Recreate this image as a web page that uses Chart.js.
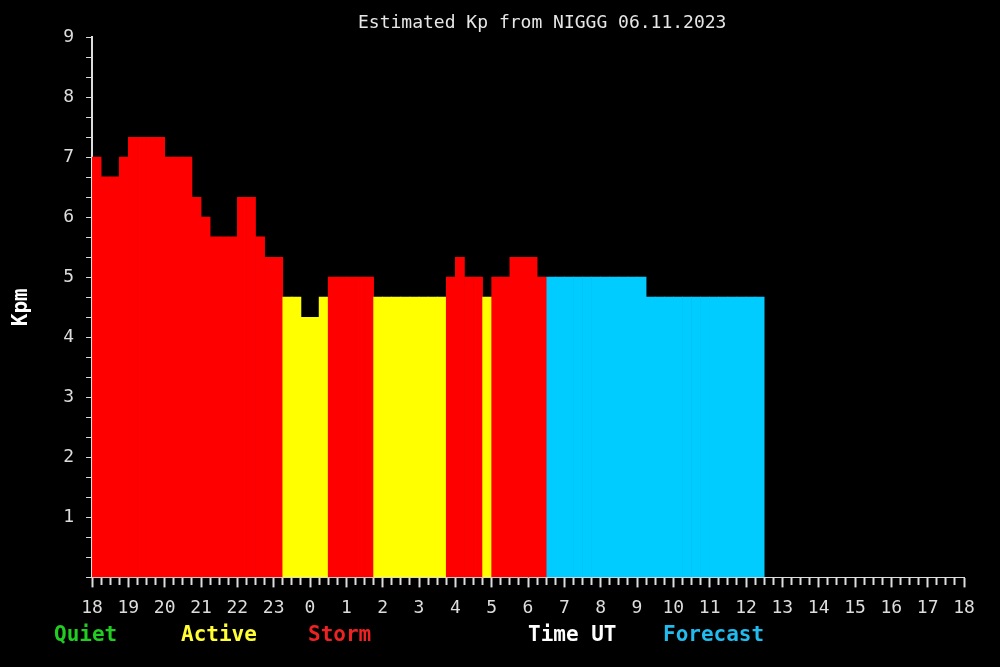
<!DOCTYPE html>
<html>
<head>
<meta charset="utf-8">
<script src="https://cdn.jsdelivr.net/npm/chart.js"></script>
<style>
  body { margin: 0; background: #000; }
  #wrap { position: relative; width: 1000px; height: 667px; }
  .txt { position: absolute; font-family: "DejaVu Sans Mono", monospace; white-space: pre; line-height: 1; }
  #title { left: 358px; top: 13px; font-size: 18px; color: #e6e6e6; }
  .legend { top: 624px; font-size: 21px; font-weight: bold; }
</style>
</head>
<body>
<div id="wrap">
  <canvas id="kpChart"></canvas>
  <div class="txt" id="title">Estimated Kp from NIGGG 06.11.2023</div>
  <div class="txt legend" style="left:54px;color:#22cc22">Quiet</div>
  <div class="txt legend" style="left:181px;color:#ffff33">Active</div>
  <div class="txt legend" style="left:308px;color:#ee2222">Storm</div>
  <div class="txt legend" style="left:528px;color:#ffffff">Time UT</div>
  <div class="txt legend" style="left:663px;color:#22bbee">Forecast</div>
</div>
<script>
// hour labels for the 24h window starting 18 UT
const hourLabels = ['18', '19', '20', '21', '22', '23', '0', '1', '2', '3', '4', '5', '6',
    '7', '8', '9', '10', '11', '12', '13', '14', '15', '16', '17', '18']

// estimated Kp, one value per 15 minutes from 18:00 UT
const observedKp = [7, 6.67, 6.67, 7, 7.33, 7.33, 7.33, 7.33, 7, 7,
    7, 6.33, 6, 5.67, 5.67, 5.67, 6.33, 6.33, 5.67, 5.33,
    5.33, 4.67, 4.67, 4.33, 4.33, 4.67, 5, 5, 5, 5,
    5, 4.67, 4.67, 4.67, 4.67, 4.67, 4.67, 4.67, 4.67, 5,
    5.33, 5, 5, 4.67, 5, 5, 5.33, 5.33, 5.33, 5]

// forecast, continues right after the observed values
const forecastKp = [5, 5, 5, 5, 5, 5, 5, 5, 5, 5,
    5, 4.67, 4.67, 4.67, 4.67, 4.67, 4.67, 4.67, 4.67, 4.67,
    4.67, 4.67, 4.67, 4.67]

const slot = 0.25 // hours per value

const observedPoints = observedKp.map((v, i) => ({ x: i * slot + slot / 2, y: v }))
const forecastPoints = forecastKp.map((v, i) => ({ x: (observedKp.length + i) * slot + slot / 2, y: v }))

const levelColor = v => {
    if (v >= 4.9) return '#ff0000'
    if (v >= 3.9) return '#ffff00'
    return '#00cc00'
}

const isWhole = v => Math.abs(v - Math.round(v)) < 1e-6
const axisColor = '#dddddd'
const tickFont = { family: 'DejaVu Sans Mono', size: 18 }

const ctx = document.getElementById('kpChart')

new Chart(ctx, {
    type: 'bar',
    data: {
        datasets: [{
            label: 'Kp',
            data: observedPoints,
            backgroundColor: observedKp.map(levelColor),
            borderWidth: 0,
        }, {
            label: 'Forecast',
            data: forecastPoints,
            backgroundColor: '#00ccff',
            borderWidth: 0,
        }]
    },
    options: {
        animation: false,
        responsive: true,
        maintainAspectRatio: false,
        grouped: false,
        barPercentage: 1,
        categoryPercentage: 1,
        layout: {
            padding: { top: 37, right: 36, bottom: 38, left: 4 }
        },
        scales: {
            x: {
                type: 'linear',
                min: 0,
                max: 24,
                offset: false,
                border: { color: axisColor, width: 1 },
                grid: {
                    offset: false,
                    drawOnChartArea: false,
                    tickLength: 10,
                    tickColor: axisColor,
                    tickWidth: 2,
                    // quarter hour ticks shorter than the hour ticks
                    tickBorderDash: c => (c.tick && isWhole(c.tick.value)) ? [] : [7, 20],
                },
                ticks: {
                    stepSize: slot,
                    autoSkip: false,
                    maxRotation: 0,
                    minRotation: 0,
                    padding: 10,
                    color: axisColor,
                    font: tickFont,
                    callback: v => isWhole(v) ? hourLabels[Math.round(v)] : '',
                },
            },
            y: {
                min: 0,
                max: 9,
                border: { color: axisColor, width: 2 },
                grid: {
                    drawOnChartArea: false,
                    tickLength: 6,
                    tickColor: axisColor,
                },
                ticks: {
                    stepSize: 1 / 3,
                    autoSkip: false,
                    padding: 12,
                    color: axisColor,
                    font: tickFont,
                    callback: v => (isWhole(v) && Math.round(v) > 0) ? String(Math.round(v)) : '',
                },
                title: {
                    display: true,
                    text: 'Kpm',
                    color: '#ffffff',
                    padding: { top: 5, bottom: 17 },
                    font: { family: 'DejaVu Sans Mono', size: 21, weight: 'bold' },
                },
            },
        },
        plugins: {
            legend: { display: false },
            tooltip: { enabled: false },
        },
    },
})
</script>
</body>
</html>
